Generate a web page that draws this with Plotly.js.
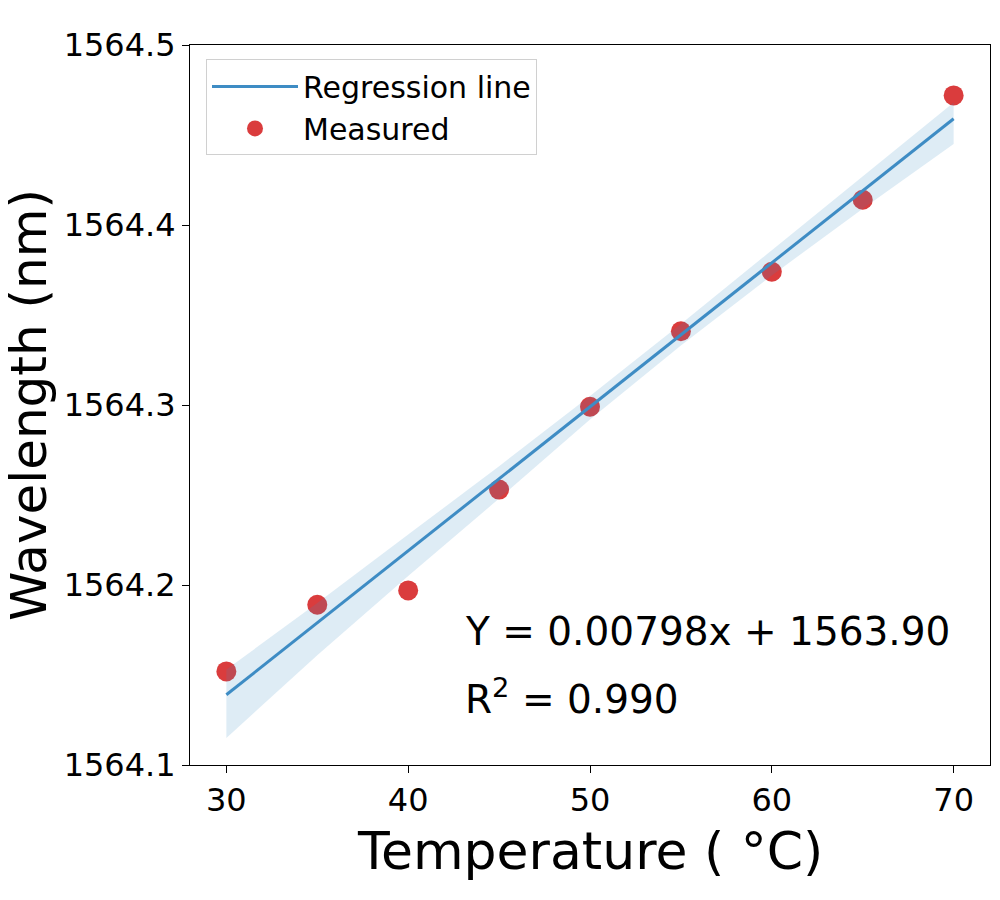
<!DOCTYPE html>
<html>
<head>
<meta charset="utf-8">
<script src="https://cdn.plot.ly/plotly-3.0.1.min.js"></script>
<style>
  html, body { margin: 0; padding: 0; background: #fff; }
  #myDiv { width: 1000px; height: 900px; }
</style>
</head>
<body>
<div id="myDiv"></div>
<script>
// Measured points
var temperature = [30, 35, 40, 45, 50, 55, 60, 65, 70];
var wavelength = [1564.152, 1564.189, 1564.197, 1564.253, 1564.299, 1564.341, 1564.374, 1564.414, 1564.472];

// Fitted line (Y = 0.00798x + 1563.90), end points
var fitX = [30, 70];
var fitY = [1564.139, 1564.459];

// Confidence band
var bandUpper = [1564.153, 1564.190, 1564.228, 1564.266, 1564.305, 1564.345, 1564.386, 1564.427, 1564.468];
var bandLower = [1564.115, 1564.161, 1564.205, 1564.248, 1564.292, 1564.333, 1564.372, 1564.409, 1564.445];

var xTicks = [30, 40, 50, 60, 70];
var yTicks = [1564.1, 1564.2, 1564.3, 1564.4, 1564.5];

var lineColor = 'rgb(62,140,196)';

var measuredTrace = {
  x: temperature,
  y: wavelength,
  type: 'scatter',
  mode: 'markers',
  name: 'Measured',
  marker: { color: 'rgba(214,39,40,0.9)', size: 20, line: { width: 0 } }
};

var lowerTrace = {
  x: temperature,
  y: bandLower,
  type: 'scatter',
  mode: 'lines',
  line: { width: 0, color: 'rgba(0,0,0,0)' },
  showlegend: false,
  hoverinfo: 'skip'
};

var upperTrace = {
  x: temperature,
  y: bandUpper,
  type: 'scatter',
  mode: 'lines',
  fill: 'tonexty',
  fillcolor: 'rgba(62,140,196,0.17)',
  line: { width: 0, color: 'rgba(0,0,0,0)' },
  showlegend: false,
  hoverinfo: 'skip'
};

var fitTrace = {
  x: fitX,
  y: fitY,
  type: 'scatter',
  mode: 'lines',
  name: 'Regression line',
  line: { color: lineColor, width: 3 }
};

// points drawn first so the band and line sit on top of them
var data = [measuredTrace, lowerTrace, upperTrace, fitTrace];

var layout = {
  width: 1000,
  height: 900,
  margin: { l: 190, r: 10, t: 45, b: 135 },
  paper_bgcolor: '#fff',
  plot_bgcolor: '#fff',
  font: { family: 'DejaVu Sans', size: 32, color: '#000' },
  showlegend: true,
  legend: {
    x: 0.02, y: 0.98, xanchor: 'left', yanchor: 'top',
    traceorder: 'reversed',
    bgcolor: 'rgba(255,255,255,0.8)',
    bordercolor: '#d0d0d0', borderwidth: 1,
    itemwidth: 86,
    font: { size: 30 }
  },
  xaxis: {
    range: [28, 72],
    tickvals: xTicks,
    ticks: 'outside', ticklen: 7, tickcolor: '#000',
    showline: true, mirror: true, linecolor: '#000', linewidth: 1,
    showgrid: false, zeroline: false
  },
  yaxis: {
    range: [1564.1, 1564.5],
    tickvals: yTicks,
    tickformat: '.1f',
    ticks: 'outside', ticklen: 7, tickcolor: '#000',
    showline: true, mirror: true, linecolor: '#000', linewidth: 1,
    showgrid: false, zeroline: false,
    title: { text: 'Wavelength (nm)', font: { size: 50 }, standoff: 18 }
  },
  annotations: [
    {
      // x axis title, placed by hand so it sits where the reference has it
      x: 0.5, y: -0.12, xref: 'paper', yref: 'paper',
      xanchor: 'center', yanchor: 'middle',
      text: 'Temperature ( °C)',
      showarrow: false, font: { size: 52 }
    },
    {
      x: 43, y: 1564.174, xref: 'x', yref: 'y',
      xanchor: 'left', yanchor: 'middle',
      text: 'Y = 0.00798x + 1563.90',
      showarrow: false, font: { size: 39 }
    },
    {
      x: 43, y: 1564.138, xref: 'x', yref: 'y',
      xanchor: 'left', yanchor: 'middle',
      text: 'R<sup>2</sup> = 0.990',
      showarrow: false, font: { size: 39 }
    }
  ]
};

Plotly.newPlot('myDiv', data, layout, { displayModeBar: false, staticPlot: true });
</script>
</body>
</html>
